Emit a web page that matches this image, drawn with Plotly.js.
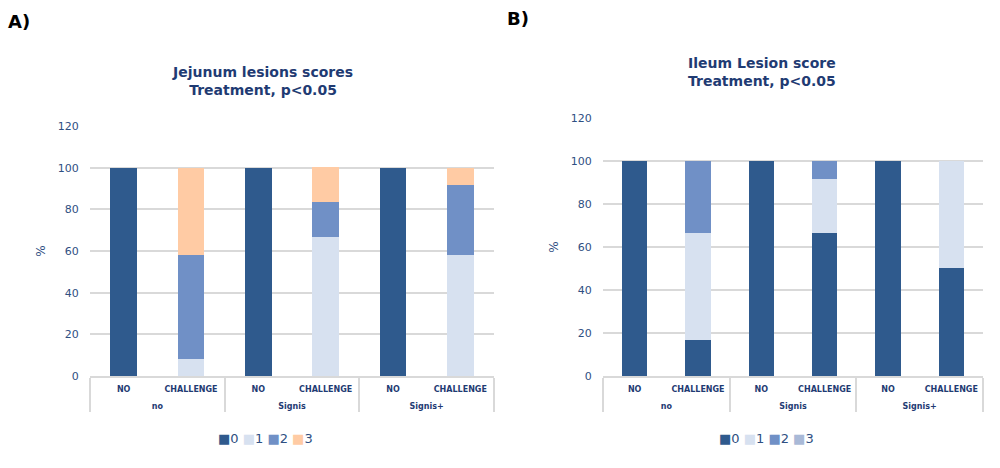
<!DOCTYPE html>
<html>
<head>
<meta charset="utf-8">
<script src="https://cdn.plot.ly/plotly-3.0.1.min.js"></script>
<style>html,body{margin:0;padding:0;background:#fff;}#chart{width:1000px;height:468px;}</style>
</head>
<body>
<div id="chart"></div>
<script>
// ---- data ----
var groups = ['no', 'no', 'Signis', 'Signis', 'Signis+', 'Signis+'];
var treatments = ['NO', 'CHALLENGE', 'NO', 'CHALLENGE', 'NO', 'CHALLENGE'];
var scoreNames = ['0', '1', '2', '3'];

var jejunum0 = [100, 0, 100, 0, 100, 0];
var jejunum1 = [0, 8.3, 0, 66.7, 0, 58.3];
var jejunum2 = [0, 50, 0, 16.7, 0, 33.3];
var jejunum3 = [0, 41.7, 0, 16.7, 0, 8.3];

var ileum0 = [100, 16.7, 100, 66.7, 100, 50];
var ileum1 = [0, 50, 0, 25, 0, 50];
var ileum2 = [0, 33.3, 0, 8.3, 0, 0];
var ileum3 = [0, 0, 0, 0, 0, 0];

var yTicks = [0, 20, 40, 60, 80, 100, 120];

var jejTitle = 'Jejunum lesions scores<br>Treatment, p<0.05';
var ileTitle = 'Ileum Lesion score<br>Treatment, p<0.05';

// ---- styles ----
var jejColors = ['#2F5A8D', '#D7E1F0', '#7090C6', '#FFCBA4'];
var ileColors = ['#2F5A8D', '#D7E1F0', '#7090C6', '#A9B9D7'];
var navy = '#1F3B73';
var tickBlue = '#2F4F82';
var gridGray = '#D9D9D9';
var FONT = 'DejaVu Sans, Verdana, sans-serif';

// sub-level labels get an empty second line so the group row sits lower, as in the reference
var treatmentLabels = treatments.map(function (t) { return t + '<br>&nbsp;'; });
var xcat = [groups, treatmentLabels];
var jejSeries = [jejunum0, jejunum1, jejunum2, jejunum3];
var ileSeries = [ileum0, ileum1, ileum2, ileum3];

var traces = [];
jejSeries.forEach(function (vals, i) {
  traces.push({type: 'bar', x: xcat, y: vals, name: scoreNames[i], xaxis: 'x', yaxis: 'y',
    marker: {color: jejColors[i]}, showlegend: false, hoverinfo: 'y+name'});
});
ileSeries.forEach(function (vals, i) {
  traces.push({type: 'bar', x: xcat, y: vals, name: scoreNames[i], xaxis: 'x2', yaxis: 'y2',
    marker: {color: ileColors[i]}, showlegend: false, hoverinfo: 'y+name'});
});

function legendText(colors) {
  return scoreNames.map(function (n, i) {
    return '<span style="color:' + colors[i] + ';font-size:13px">■</span>' + n;
  }).join(' ');
}

function xAxis(domain, anchor) {
  return {
    type: 'multicategory', domain: domain, anchor: anchor,
    showline: true, linecolor: gridGray, linewidth: 2,
    showdividers: true, dividercolor: gridGray, dividerwidth: 2,
    ticks: '', ticklabelstandoff: 4,
    tickfont: {family: FONT, size: 8, color: navy, weight: 'bold'},
    showgrid: false, zeroline: false, fixedrange: true
  };
}
function yAxis(domain, anchor) {
  return {
    domain: domain, anchor: anchor, range: [0, 120], tickvals: yTicks,
    showgrid: true, gridcolor: gridGray, gridwidth: 2, zeroline: false, showline: false,
    ticks: 'outside', ticklen: 8, tickcolor: 'rgba(0,0,0,0)',
    tickfont: {family: FONT, size: 11, color: tickBlue},
    title: {text: '%', font: {family: FONT, size: 12, color: tickBlue}, standoff: 9},
    fixedrange: true
  };
}

var layout = {
  width: 1000, height: 468,
  margin: {l: 0, r: 0, t: 0, b: 0},
  paper_bgcolor: '#fff', plot_bgcolor: '#fff',
  barmode: 'stack', bargap: 0.6,
  showlegend: false,
  xaxis: xAxis([0.090, 0.494], 'y'),
  yaxis: yAxis([0.1966, 0.7308], 'x'),
  xaxis2: xAxis([0.603, 0.983], 'y2'),
  yaxis2: yAxis([0.1966, 0.7479], 'x2'),
  annotations: [
    {text: '<b>A)</b>', xref: 'paper', yref: 'paper', x: 0.006, y: 0.955, xanchor: 'left', yanchor: 'middle',
      showarrow: false, font: {family: FONT, size: 18, color: '#000'}},
    {text: '<b>B)</b>', xref: 'paper', yref: 'paper', x: 0.505, y: 0.96, xanchor: 'left', yanchor: 'middle',
      showarrow: false, font: {family: FONT, size: 18, color: '#000'}},
    {text: jejTitle, xref: 'paper', yref: 'paper', x: 0.262, y: 1 - 80.5 / 468, xanchor: 'center', yanchor: 'middle',
      showarrow: false, font: {family: FONT, size: 14, color: navy, weight: 'bold'}},
    {text: ileTitle, xref: 'paper', yref: 'paper', x: 0.762, y: 1 - 71.5 / 468, xanchor: 'center', yanchor: 'middle',
      showarrow: false, font: {family: FONT, size: 14, color: navy, weight: 'bold'}},
    {text: legendText(jejColors), xref: 'paper', yref: 'paper', x: 0.265, y: 1 - 438 / 468, xanchor: 'center', yanchor: 'middle',
      showarrow: false, font: {family: FONT, size: 13, color: tickBlue}},
    {text: legendText(ileColors), xref: 'paper', yref: 'paper', x: 0.766, y: 1 - 438 / 468, xanchor: 'center', yanchor: 'middle',
      showarrow: false, font: {family: FONT, size: 13, color: tickBlue}}
  ]
};

Plotly.newPlot('chart', traces, layout, {displayModeBar: false, staticPlot: true});
</script>
</body>
</html>
